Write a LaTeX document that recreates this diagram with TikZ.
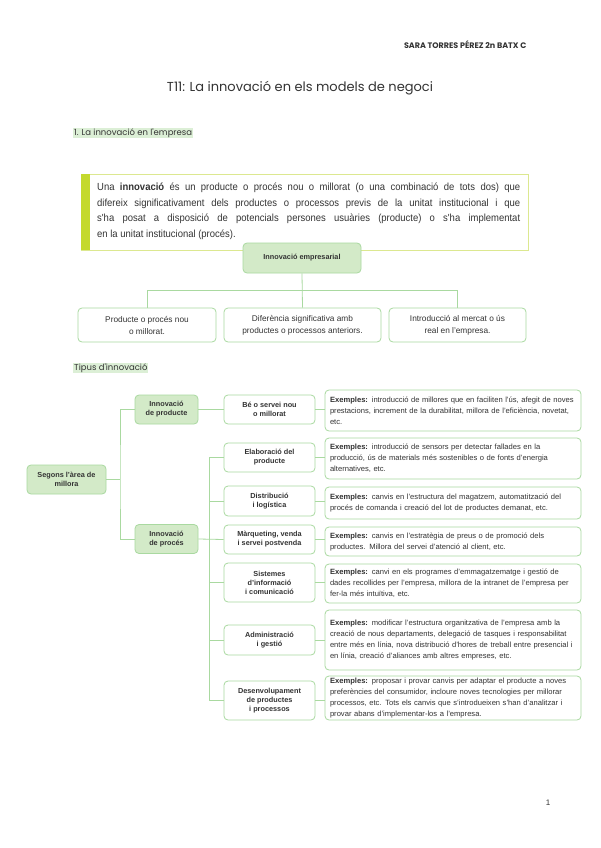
\documentclass[tikz,border=0pt]{standalone}
\usepackage{fontspec}
\setmainfont{Liberation Sans}
\newfontfamily\hand{Poppins}
\newfontfamily\narrow[FakeStretch=0.92]{Liberation Sans}
\hyphenpenalty=10000
\definecolor{gline}{HTML}{A9D9A0}
\definecolor{gfill}{HTML}{D3EAC8}
\definecolor{barcol}{HTML}{C4D92E}
\definecolor{yline}{HTML}{DCE890}
\definecolor{hl}{HTML}{DCEFD6}
\definecolor{txt}{HTML}{333333}
\tikzset{
 every node/.style={text=txt},
 box/.style={draw=gline,line width=0.8pt,rounded corners=4pt,align=center,inner sep=0pt},
 dark/.style={box,fill=gfill,font=\bfseries\fontsize{7.3}{9}\selectfont},
 mid/.style={box,fill=white,font=\bfseries\fontsize{7.3}{9}\selectfont},
 ex/.style={box,fill=white,align=left,font=\fontsize{7.6}{11}\selectfont},
 conn/.style={draw=gline,line width=0.8pt},
}
\begin{document}
\begin{tikzpicture}[x=1pt,y=-1pt]
\useasboundingbox[fill=white] (0,0) rectangle (600,848);
\node[anchor=east,font=\hand\bfseries\fontsize{8}{9}\selectfont] (hdr) at (530,45) {SARA TORRES PÉREZ 2n BATX C};
\node[font=\hand\fontsize{13}{15}\selectfont] (title) at (300,88) {T11: La innovació en els models de negoci};
\node[anchor=west,fill=hl,inner sep=1pt,font=\hand\fontsize{8.5}{10}\selectfont] (s1) at (73,133) {1. La innovació en l'empresa};
% definition
\draw[draw=yline,line width=1pt] (81,174) rectangle (528,250);
\fill[fill=barcol] (81,174) rectangle (90,250);
\node[anchor=north west,align=justify,text width=423pt,inner sep=0pt,font=\narrow\fontsize{10.3}{15.5}\selectfont] (def) at (97,183)
{Una \textbf{innovació} és un producte o procés nou o millorat (o una combinació de tots dos) que\linebreak difereix significativament dels productes o processos previs de la unitat institucional i que\linebreak s'ha posat a disposició de potencials persones usuàries (producte) o s'ha implementat\linebreak en la unitat institucional (procés).};
% tree 1
\node[dark,minimum width=118pt,minimum height=30pt] (ie) at (302,258) {Innovació empresarial};
\node[box,minimum width=138pt,minimum height=34pt,font=\fontsize{8.3}{12}\selectfont] (b1) at (147,325) {Producte o procés nou\\o millorat.};
\node[box,minimum width=157pt,minimum height=34pt,font=\fontsize{8.3}{12}\selectfont] (b2) at (302.5,325) {Diferència significativa amb\\productes o processos anteriors.};
\node[box,minimum width=137pt,minimum height=34pt,font=\fontsize{8.3}{12}\selectfont] (b3) at (457.5,325) {Introducció al mercat o ús\\real en l'empresa.};
\draw[conn] (ie.south) -- (b2.north);
\draw[conn] (b1.north) -- ++(0,-17) -| (b3.north);
\node[anchor=west,fill=hl,inner sep=1pt,font=\hand\fontsize{8.5}{10}\selectfont] (s2) at (73,368) {Tipus d'innovació};
% tree 2
\node[dark,minimum width=79pt,minimum height=29pt] (root) at (66.5,479.5) {Segons l'àrea de\\millora};
\node[dark,minimum width=63pt,minimum height=29pt] (ip) at (166.5,409.5) {Innovació\\de producte};
\node[dark,minimum width=63pt,minimum height=29pt] (ipc) at (166.5,539) {Innovació\\de procés};
\draw[conn] (root.east) -- (120,479.5);
\draw[conn] (ip.west) -| (120,479.5) |- (ipc.west);
\foreach \n/\y/\h/\t in {
 a/409.5/29/{Bé o servei nou\\o millorat},
 b/457.5/29/{Elaboració del\\producte},
 c/501/30/{Distribució\\i logística},
 d/539.5/29/{Màrqueting, venda\\i servei postvenda},
 e/582.5/39/{Sistemes\\d'informació\\i comunicació},
 f/640/30/{Administració\\i gestió},
 g/700.5/39/{Desenvolupament\\de productes\\i processos}}
 {\node[mid,minimum width=91pt,minimum height=\h pt] (m\n) at (269.5,\y) {\t};}
\draw[conn] (ip.east) -- (ma.west);
\draw[conn] (ipc.east) -- (md.west);
\draw[conn] (mb.west) -- ++(-14,0) coordinate (tb) -- (tb |- mg.west) -- (mg.west);
\foreach \n in {c,e,f} \draw[conn] (m\n.west) -- (tb |- m\n.west);
\foreach \n/\y/\h/\t in {
 a/410.5/41/{\textbf{Exemples:} introducció de millores que en faciliten l'ús, afegit de noves prestacions, increment de la durabilitat, millora de l'eficiència, novetat, etc.},
 b/458.5/41/{\textbf{Exemples:} introducció de sensors per detectar fallades en la producció, ús de materials més sostenibles o de fonts d'energia alternatives, etc.},
 c/503/32/{\textbf{Exemples:} canvis en l'estructura del magatzem, automatització del procés de comanda i creació del lot de productes demanat, etc.},
 d/541.5/29/{\textbf{Exemples:} canvis en l'estratègia de preus o de promoció dels productes. Millora del servei d'atenció al client, etc.},
 e/583.5/39/{\textbf{Exemples:} canvi en els programes d'emmagatzematge i gestió de dades recollides per l'empresa, millora de la intranet de l'empresa per fer-la més intuïtiva, etc.},
 f/640/60/{\textbf{Exemples:} modificar l'estructura organitzativa de l'empresa amb la creació de nous departaments, delegació de tasques i responsabilitat entre més en línia, nova distribució d'hores de treball entre presencial i en línia, creació d'aliances amb altres empreses, etc.},
 g/698/44/{\textbf{Exemples:} proposar i provar canvis per adaptar el producte a noves preferències del consumidor, incloure noves tecnologies per millorar processos, etc. Tots els canvis que s'introdueixen s'han d'analitzar i provar abans d'implementar-los a l'empresa.}}
 {\node[ex,minimum height=\h pt,text width=246pt,inner xsep=5pt] (x\n) at (453,\y) {\t};
  \draw[conn] (m\n.east) -- (x\n.west |- m\n.east);}
\node[font=\fontsize{8}{9}\selectfont] (pg) at (548,803) {1};
\end{tikzpicture}
\end{document}
